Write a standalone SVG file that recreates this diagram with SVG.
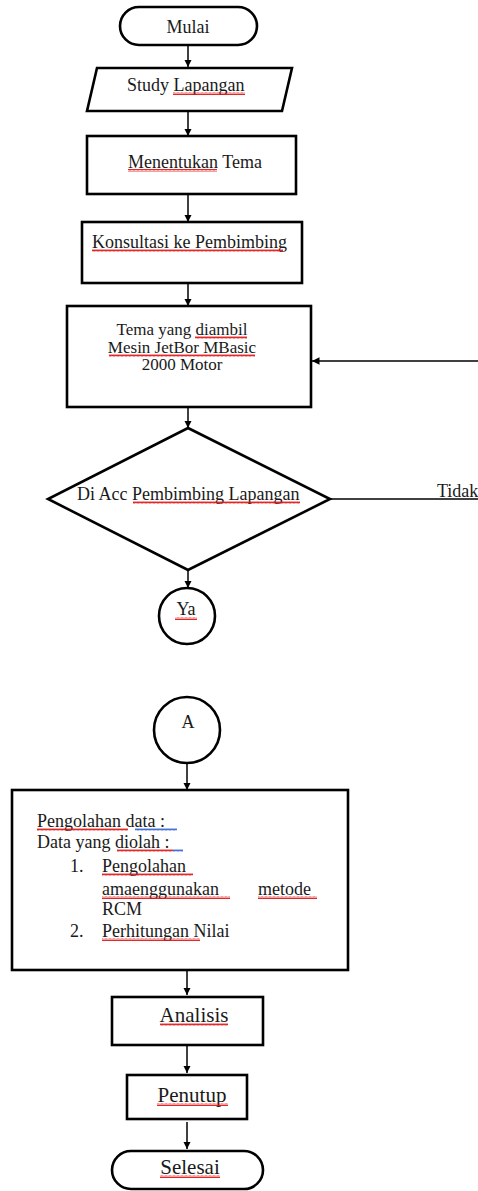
<svg xmlns="http://www.w3.org/2000/svg" width="478" height="1191" viewBox="0 0 478 1191">
<style>
.box{fill:#fff;stroke:#000;stroke-width:2.6}
.ln{fill:none;stroke:#000;stroke-width:1.5}
.t{font-family:'Liberation Serif','DejaVu Serif',serif;font-size:18px;fill:#1a1a1a}
.big{font-size:21px}
.mid{font-size:17px}
.wr{fill:url(#wavyR)}
.wb{fill:url(#wavyB)}
</style>
<defs>
<marker id="ah" viewBox="0 0 10 10" refX="10" refY="5" markerWidth="5" markerHeight="5" orient="auto" markerUnits="strokeWidth">
<path d="M0,0 L10,5 L0,10 z" fill="#000"/>
</marker>
<pattern id="wavyR" width="4" height="3" patternUnits="userSpaceOnUse">
<path d="M0,2.5 L1,0.5 L2,2.5 L3,0.5 L4,2.5" fill="none" stroke="#e01010" stroke-width="0.9"/>
</pattern>
<pattern id="wavyB" width="4" height="3" patternUnits="userSpaceOnUse">
<path d="M0,2.5 L1,0.5 L2,2.5 L3,0.5 L4,2.5" fill="none" stroke="#3060d0" stroke-width="0.9"/>
</pattern>
</defs>

<g id="connectors">
<line class="ln" x1="188" y1="45" x2="188" y2="67" marker-end="url(#ah)"/>
<line class="ln" x1="188" y1="111" x2="188" y2="136" marker-end="url(#ah)"/>
<line class="ln" x1="188" y1="194" x2="188" y2="222" marker-end="url(#ah)"/>
<line class="ln" x1="188" y1="283" x2="188" y2="306" marker-end="url(#ah)"/>
<line class="ln" x1="188" y1="407" x2="188" y2="428" marker-end="url(#ah)"/>
<line class="ln" x1="188" y1="570" x2="188" y2="588" marker-end="url(#ah)"/>
<line class="ln" x1="187" y1="763" x2="187" y2="790" marker-end="url(#ah)"/>
<line class="ln" x1="187" y1="970" x2="187" y2="995" marker-end="url(#ah)"/>
<line class="ln" x1="187" y1="1045" x2="187" y2="1073" marker-end="url(#ah)"/>
<line class="ln" x1="187" y1="1122" x2="187" y2="1149" marker-end="url(#ah)"/>
<line class="ln" x1="478" y1="361" x2="312" y2="361" marker-end="url(#ah)"/>
<line class="ln" x1="330" y1="499" x2="478" y2="499"/>
<text class="t" x="437" y="497" font-family="Liberation Serif, serif">Tidak</text>
</g>

<g id="mulai">
<rect class="box" x="120" y="7" width="137" height="38" rx="19"/>
<text class="t" x="188" y="33" text-anchor="middle">Mulai</text>
</g>

<g id="study">
<polygon class="box" points="97,68 292,68 282,111 87,111"/>
<text class="t" x="127" y="91">Study Lapangan</text>
<rect class="wr" x="173" y="92" width="72" height="3"/>
</g>

<g id="tema">
<rect class="box" x="87" y="136" width="209" height="58"/>
<text class="t" x="128" y="168">Menentukan Tema</text>
<rect class="wr" x="128" y="169" width="89" height="3"/>
</g>

<g id="konsultasi">
<rect class="box" x="82" y="222" width="220" height="61"/>
<text class="t" x="92" y="248">Konsultasi ke Pembimbing</text>
<rect class="wr" x="92" y="249" width="191" height="3"/>
</g>

<g id="tema-diambil">
<rect class="box" x="67" y="306" width="244" height="101"/>
<text class="t mid" x="182" y="335" text-anchor="middle">Tema yang diambil</text>
<text class="t mid" x="182" y="353" text-anchor="middle">Mesin JetBor MBasic</text>
<text class="t mid" x="182" y="370" text-anchor="middle">2000 Motor</text>
<rect class="wr" x="195" y="336" width="52" height="3"/>
<rect class="wr" x="109" y="354" width="146" height="3"/>
</g>

<g id="decision">
<polygon class="box" points="188,428 330,499 188,570 48,499"/>
<text class="t" x="77" y="500">Di Acc Pembimbing Lapangan</text>
<rect class="wr" x="133" y="501" width="167" height="3"/>
</g>

<g id="ya">
<circle class="box" cx="187" cy="616" r="28"/>
<text class="t" x="186" y="615" text-anchor="middle">Ya</text>
<rect class="wr" x="175" y="617" width="22" height="3"/>
</g>

<g id="a">
<circle class="box" cx="187" cy="730" r="33"/>
<text class="t" x="188" y="728" text-anchor="middle">A</text>
</g>

<g id="pengolahan">
<rect class="box" x="12" y="790" width="336" height="180"/>
<text class="t" x="37" y="827">Pengolahan data :</text>
<text class="t" x="37" y="848">Data yang diolah :</text>
<text class="t" x="70" y="872">1.</text>
<text class="t" x="102" y="872">Pengolahan</text>
<text class="t" x="102" y="895">amaenggunakan</text>
<text class="t" x="258" y="895">metode</text>
<text class="t" x="102" y="915">RCM</text>
<text class="t" x="70" y="937">2.</text>
<text class="t" x="102" y="937">Perhitungan Nilai</text>
<rect class="wr" x="37" y="828" width="91" height="3"/>
<rect class="wb" x="135" y="828" width="42" height="3"/>
<rect class="wr" x="117" y="849" width="56" height="3"/>
<rect class="wb" x="173" y="849" width="10" height="3"/>
<rect class="wr" x="102" y="873" width="91" height="3"/>
<rect class="wr" x="102" y="896" width="128" height="3"/>
<rect class="wr" x="258" y="896" width="59" height="3"/>
<rect class="wr" x="102" y="938" width="98" height="3"/>
</g>

<g id="analisis">
<rect class="box" x="112" y="997" width="151" height="48"/>
<text class="t big" x="194" y="1022" text-anchor="middle">Analisis</text>
<rect class="wr" x="160" y="1023" width="68" height="3"/>
</g>

<g id="penutup">
<rect class="box" x="127" y="1075" width="120" height="44"/>
<text class="t big" x="192" y="1102" text-anchor="middle">Penutup</text>
<rect class="wr" x="157" y="1103" width="71" height="3"/>
</g>

<g id="selesai">
<rect class="box" x="112" y="1151" width="151" height="38" rx="19"/>
<text class="t big" x="190" y="1174" text-anchor="middle">Selesai</text>
<rect class="wr" x="160" y="1175" width="60" height="3"/>
</g>
</svg>
